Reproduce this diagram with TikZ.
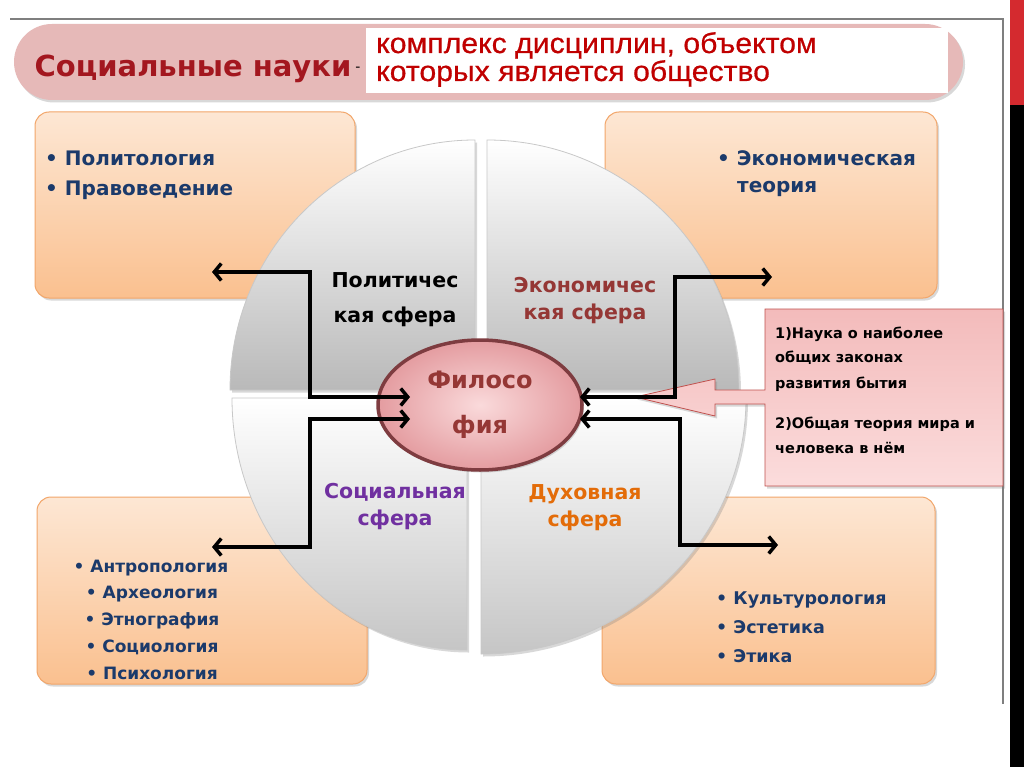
\documentclass[tikz,border=0pt]{standalone}
\usepackage{fontspec}
\setmainfont{DejaVu Sans}
\newfontfamily\bannerfont[FakeBold=0.6,FakeStretch=1.06]{Liberation Sans}
\usetikzlibrary{shapes.geometric,arrows.meta,shadows}
\definecolor{bannerpink}{HTML}{E6B9B8}
\definecolor{bannerred}{HTML}{C00000}
\definecolor{titlered}{HTML}{A3171F}
\definecolor{ortop}{HTML}{FDE7D4}
\definecolor{orbot}{HTML}{FAC08F}
\definecolor{orborder}{HTML}{F2A66A}
\definecolor{listblue}{HTML}{1B3A6B}
\definecolor{quadborder}{HTML}{C8C8C8}
\definecolor{ecored}{HTML}{953735}
\definecolor{socpurple}{HTML}{7030A0}
\definecolor{spirorange}{HTML}{E36C09}
\definecolor{philin}{HTML}{FADADB}
\definecolor{philout}{HTML}{E49CA0}
\definecolor{philrim}{HTML}{7E3C40}
\definecolor{calltop}{HTML}{F3BBBB}
\definecolor{callbot}{HTML}{FBDCDC}
\definecolor{callborder}{HTML}{C0504D}
\definecolor{framegray}{HTML}{7F7F7F}
\definecolor{barred}{HTML}{D42A2F}
\begin{document}
\begin{tikzpicture}[x=1pt,y=-1pt,
  softshadow/.style={drop shadow={shadow xshift=2pt,shadow yshift=-2.5pt,opacity=0.3}},
  obox/.style={rectangle,rounded corners=14pt,top color=ortop,bottom color=orbot,
    draw=orborder,line width=1pt,softshadow,inner sep=0pt},
  quad/.style={top color=white,bottom color=#1,draw=quadborder,line width=0.8pt,softshadow},
  listtxt/.style={font=\bfseries\fontsize{20}{24}\selectfont,text=listblue,inner sep=0pt},
  smalllist/.style={font=\bfseries\fontsize{17}{20}\selectfont,text=listblue,inner sep=0pt},
  brlist/.style={font=\bfseries\fontsize{17.5}{20}\selectfont,text=listblue,inner sep=0pt,anchor=base west},
  quadtxt/.style={font=\bfseries\fontsize{20.5}{#1}\selectfont,align=center,inner sep=0pt},
  calltxt/.style={font=\bfseries\fontsize{14.5}{17}\selectfont,text=black,inner sep=0pt,anchor=base west},
  bannertxt/.style={anchor=base west,inner sep=0pt,text=bannerred,font=\bannerfont\fontsize{28.5}{30}\selectfont},
  conn/.style={line width=3.5pt,black,
    {Straight Barb[length=7pt,width=17pt]}-{Straight Barb[length=7pt,width=17pt]}}
]
\useasboundingbox (0,0) rectangle (1024,767);
\fill[white] (0,0) rectangle (1024,767);

% slide frame and side bar
\draw[framegray,line width=1.2pt] (10,19) -- (1003,19) -- (1003,704);
\fill[barred] (1010,0) rectangle (1024,105);
\fill[black] (1010,105) rectangle (1024,767);

% banner
\fill[bannerpink,rounded corners=38pt,softshadow] (14,24) rectangle (963,100);
\fill[white] (366,28) rectangle (948,93);
\node[bannertxt] (def1) at (376,53) {комплекс дисциплин, объектом};
\node[bannertxt] (def2) at (376,81) {которых является общество};
\node[anchor=base,inner sep=0pt,text=titlered,font=\bfseries\fontsize{29}{32}\selectfont] (title) at (193,77) {Социальные науки};
\node[anchor=base,inner sep=0pt,text=black,font=\fontsize{14}{16}\selectfont] (dash) at (358,72) {-};

% orange boxes
\node[obox,minimum width=320pt,minimum height=186pt] (boxTL) at (195,205) {};
\node[obox,minimum width=332pt,minimum height=186pt] (boxTR) at (771,205) {};
\node[obox,minimum width=330pt,minimum height=187pt] (boxBL) at (202,590.5) {};
\node[obox,minimum width=333pt,minimum height=187pt] (boxBR) at (768.5,590.5) {};

\node[listtxt,anchor=base west] (polit) at (45,166) {• Политология};
\node[listtxt,anchor=base west] (prav) at (45,196) {• Правоведение};
\node[listtxt,anchor=base west] (econ1) at (717,166) {• Экономическая};
\node[listtxt,anchor=base west] (econ2) at (737,193) {теория};

\node[smalllist,anchor=base] (l1) at (151,572) {• Антропология};
\node[smalllist,anchor=base] (l2) at (152,598) {• Археология};
\node[smalllist,anchor=base] (l3) at (152,625) {• Этнография};
\node[smalllist,anchor=base] (l4) at (152,652) {• Социология};
\node[smalllist,anchor=base] (l5) at (152,679) {• Психология};

\node[brlist] (r1) at (716,604) {• Культурология};
\node[brlist] (r2) at (716,633) {• Эстетика};
\node[brlist] (r3) at (716,662) {• Этика};

% quadrants
\path[quad=gray!55] (475,390) -- (230,390) arc[start angle=180,end angle=90,x radius=245pt,y radius=250pt] -- cycle;
\path[quad=gray!55] (487,390) -- (487,140) arc[start angle=90,end angle=0,x radius=252pt,y radius=250pt] -- cycle;
\path[quad=gray!45] (467,398) -- (467,650) arc[start angle=270,end angle=180,x radius=235pt,y radius=252pt] -- cycle;
\path[quad=gray!45] (481,398) -- (746,398) arc[start angle=0,end angle=-90,x radius=265pt,y radius=256pt] -- cycle;

\node[quadtxt=35,text=black] (qpol) at (395,300) {Политичес\\кая сфера};
\node[quadtxt=27,text=ecored] (qeco) at (585,301) {Экономичес\\кая сфера};
\node[quadtxt=27,text=socpurple] (qsoc) at (395,507) {Социальная\\сфера};
\node[quadtxt=27,text=spirorange] (qspi) at (585,508) {Духовная\\сфера};

% callout with arrow
\path[top color=calltop,bottom color=callbot,draw=callborder,line width=0.8pt,softshadow]
  (765,309) -- (1003,309) -- (1003,486) -- (765,486) -- (765,404) -- (715,404)
  -- (715,416) -- (635,397) -- (715,379) -- (715,390) -- (765,390) -- cycle;
\node[calltxt] (c1) at (775,338) {1)Наука о наиболее};
\node[calltxt] (c2) at (775,362) {общих законах};
\node[calltxt] (c3) at (775,388) {развития бытия};
\node[calltxt] (c4) at (775,428) {2)Общая теория мира и};
\node[calltxt] (c5) at (775,453) {человека в нём};

% philosophy ellipse
\node[ellipse,minimum width=204pt,minimum height=130pt,inner color=philin,outer color=philout,
  draw=philrim,line width=3.5pt,softshadow,align=center,text=ecored,
  font=\bfseries\fontsize{24}{45}\selectfont] (phil) at (480,405) {Филосо\\фия};

% connectors
\coordinate (aTL) at (212,272);
\coordinate (aBL) at (212,547);
\coordinate (aTR) at (772,277);
\coordinate (aBR) at (778,545);
\coordinate (eL1) at (410,397);
\coordinate (eL2) at (410,419);
\coordinate (eR1) at (580,397);
\coordinate (eR2) at (580,419);
\draw[conn] (aTL) -- (310,272) |- (eL1);
\draw[conn] (aBL) -- (310,547) |- (eL2);
\draw[conn] (eR1) -- (675,397) |- (aTR);
\draw[conn] (eR2) -- (680,419) |- (aBR);
\end{tikzpicture}
\end{document}
